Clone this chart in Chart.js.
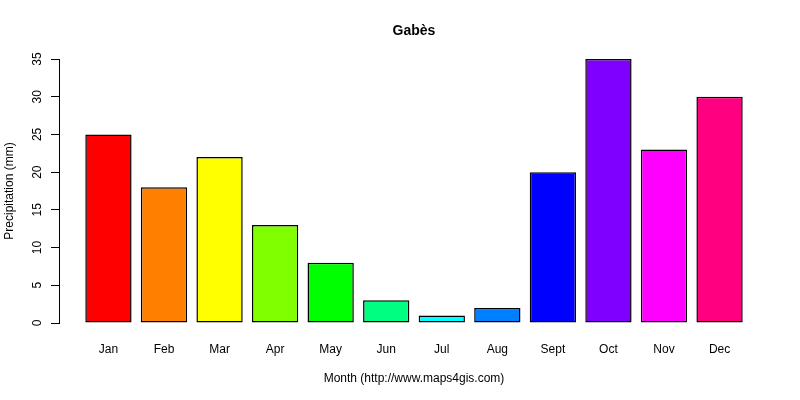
<!DOCTYPE html>
<html>
<head>
<meta charset="utf-8">
<title>Gabès precipitation</title>
<script src="https://cdn.jsdelivr.net/npm/chart.js@4"></script>
<style>
  body { margin: 0; background: #fff; }
  canvas { display: block; }
</style>
</head>
<body>
<canvas id="rainChart" width="800" height="400"></canvas>
<script>
// Data
const months = ['Jan', 'Feb', 'Mar', 'Apr', 'May', 'Jun', 'Jul', 'Aug', 'Sept', 'Oct', 'Nov', 'Dec'];
const precipitation = [25, 18, 22, 13, 8, 3, 1, 2, 20, 35, 23, 30];
const barColors = ['#FF0000', '#FF8000', '#FFFF00', '#80FF00', '#00FF00', '#00FF80',
                   '#00FFFF', '#0080FF', '#0000FF', '#8000FF', '#FF00FF', '#FF0080'];
const yTicks = [0, 5, 10, 15, 20, 25, 30, 35];

// barplot style spacing: bar width 1, gap 0.2
const barCenters = months.map((m, i) => 0.7 + 1.2 * i);
const xMin = 0.2 - 0.568;
const xMax = 14.4 + 0.568;

Chart.defaults.font.family = "'Liberation Sans', Arial, sans-serif";
Chart.defaults.font.size = 12;
Chart.defaults.color = '#000';

const ctx = document.getElementById('rainChart').getContext('2d');
const rainChart = new Chart(ctx, {
    type: 'bar',
    data: {
        datasets: [{
            label: 'Precipitation (mm)',
            data: precipitation.map((v, i) => ({ x: barCenters[i], y: v })),
            backgroundColor: barColors,
            borderColor: '#000',
            borderWidth: 1.5,
            borderSkipped: false,
            inflateAmount: 0,
            categoryPercentage: 1,
            barPercentage: 1 / 1.2
        }]
    },
    options: {
        responsive: false,
        animation: false,
        devicePixelRatio: 1,
        layout: { padding: { left: 0, right: 31, top: 0, bottom: 0 } },
        plugins: {
            legend: { display: false },
            tooltip: { enabled: false },
            title: {
                display: true,
                text: 'Gabès',
                fullSize: false,
                font: { size: 14, weight: 'bold' },
                padding: { top: 22.6, bottom: 19.6 }
            }
        },
        scales: {
            x: {
                type: 'linear',
                min: xMin,
                max: xMax,
                offset: false,
                grid: { display: false, drawTicks: false },
                border: { display: false },
                afterBuildTicks: (scale) => {
                    scale.ticks = barCenters.map(v => ({ value: v }));
                },
                ticks: {
                    autoSkip: false,
                    maxRotation: 0,
                    padding: 19,
                    callback: (value, index) => months[index]
                },
                title: {
                    display: true,
                    text: 'Month (http://www.maps4gis.com)',
                    padding: { top: -4, bottom: 14.2 }
                }
            },
            y: {
                min: 0,
                max: 35,
                afterBuildTicks: (scale) => {
                    scale.ticks = yTicks.map(v => ({ value: v }));
                },
                grid: {
                    drawOnChartArea: false,
                    drawTicks: true,
                    tickLength: 8,
                    color: '#000'
                },
                border: { display: true, color: '#000', width: 1 },
                ticks: {
                    minRotation: 90,
                    maxRotation: 90,
                    crossAlign: 'center',
                    padding: 6.8
                },
                title: {
                    display: true,
                    text: 'Precipitation (mm)',
                    padding: { top: 2.8, bottom: 5.8 }
                }
            }
        }
    }
});
</script>
</body>
</html>
